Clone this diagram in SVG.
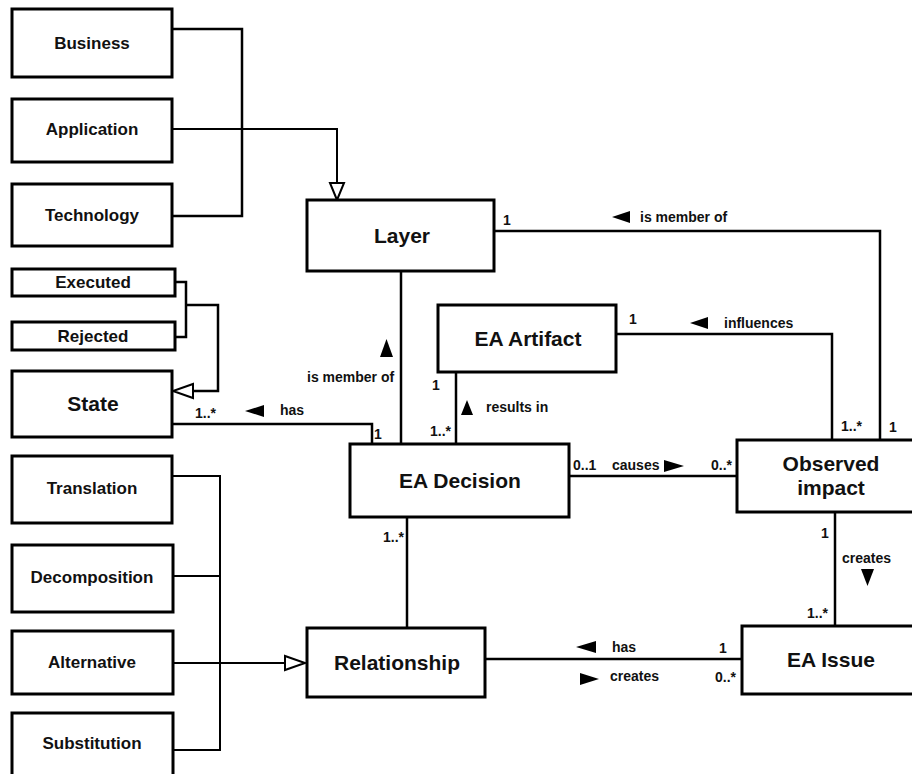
<svg xmlns="http://www.w3.org/2000/svg" width="912" height="774" viewBox="0 0 912 774">
<style>
.box{fill:#fff;stroke:#000;stroke-width:3}
.n{font-family:"Liberation Sans",Arial,sans-serif;font-weight:bold;font-size:17px;text-anchor:middle;fill:#111}
.N{font-family:"Liberation Sans",Arial,sans-serif;font-weight:bold;font-size:21px;text-anchor:middle;fill:#111}
.l{font-family:"Liberation Sans",Arial,sans-serif;font-weight:bold;font-size:14px;fill:#111}
.m{font-family:"Liberation Sans",Arial,sans-serif;font-weight:bold;font-size:14px;fill:#111}
.c{fill:none;stroke:#000;stroke-width:2.5}
.g{fill:none;stroke:#000;stroke-width:2}
.tri{fill:#fff;stroke:#000;stroke-width:2}
.dir{fill:#000;stroke:none}
</style>
<rect width="912" height="774" fill="#fff"/>
<g id="connectors">
<polyline class="c" points="172,29 242,29 242,216 172,216"/>
<polyline class="g" points="172,129 337,129 337,183"/>
<polygon class="tri" points="330,183 344,183 337,200"/>
<polyline class="c" points="175,282 186,282 186,337 175,337"/>
<polyline class="c" points="186,305 218,305 218,391 193,391"/>
<polygon class="tri" points="193,384 193,398 173,391"/>
<polyline class="c" points="172,424 372,424 372,444"/>
<polyline class="c" points="401,271 401,444"/>
<polyline class="c" points="494,231 880,231 880,440"/>
<polyline class="c" points="456,372 456,444"/>
<polyline class="c" points="616,334 832,334 832,440"/>
<polyline class="c" points="569,476 737,476"/>
<polyline class="c" points="407,517 407,628"/>
<polyline class="c" points="835,512 835,626"/>
<polyline class="c" points="485,659 742,659"/>
<polyline class="g" points="172,476 220,476 220,750 173,750"/>
<polyline class="g" points="173,576 220,576"/>
<polyline class="g" points="173,663 285,663"/>
<polygon class="tri" points="285,656 285,670 305,663"/>
<polygon class="dir" points="612,217 630,211 630,223"/>
<text class="l" x="640" y="222">is member of</text>
<text class="m" x="507" y="225" text-anchor="middle">1</text>
<text class="m" x="633" y="324" text-anchor="middle">1</text>
<polygon class="dir" points="690,323 708,317 708,329"/>
<text class="l" x="724" y="328">influences</text>
<text class="m" x="841" y="431">1..*</text>
<text class="m" x="893" y="432" text-anchor="middle">1</text>
<polygon class="dir" points="380,357 393,357 386.5,339"/>
<text class="l" x="307" y="382">is member of</text>
<text class="m" x="436" y="390" text-anchor="middle">1</text>
<polygon class="dir" points="461,415 473,415 467,400"/>
<text class="l" x="486" y="412">results in</text>
<text class="m" x="430" y="436">1..*</text>
<text class="m" x="378" y="439" text-anchor="middle">1</text>
<text class="m" x="195" y="418">1..*</text>
<polygon class="dir" points="245,411 264,405 264,417"/>
<text class="l" x="280" y="415">has</text>
<text class="m" x="573" y="470">0..1</text>
<text class="l" x="612" y="470">causes</text>
<polygon class="dir" points="664,460 684,466 664,472"/>
<text class="m" x="711" y="470">0..*</text>
<text class="m" x="383" y="542">1..*</text>
<text class="m" x="825" y="538" text-anchor="middle">1</text>
<text class="l" x="842" y="563">creates</text>
<polygon class="dir" points="861,569 874,569 867.5,586"/>
<text class="m" x="807" y="618">1..*</text>
<polygon class="dir" points="576,647 596,641 596,653"/>
<text class="l" x="612" y="652">has</text>
<text class="m" x="723" y="653" text-anchor="middle">1</text>
<polygon class="dir" points="580,673 599,679 580,685"/>
<text class="l" x="610" y="681">creates</text>
<text class="m" x="715" y="682">0..*</text>
</g>
<g id="business"><rect class="box" x="12" y="9" width="160" height="68"/><text class="n" x="92" y="49">Business</text></g>
<g id="application"><rect class="box" x="12" y="99" width="160" height="63"/><text class="n" x="92" y="135">Application</text></g>
<g id="technology"><rect class="box" x="12" y="184" width="160" height="62"/><text class="n" x="92" y="221">Technology</text></g>
<g id="executed"><rect class="box" x="12" y="269" width="163" height="27"/><text class="n" x="93" y="288">Executed</text></g>
<g id="rejected"><rect class="box" x="12" y="322" width="163" height="28"/><text class="n" x="93" y="342">Rejected</text></g>
<g id="state"><rect class="box" x="12" y="371" width="160" height="66"/><text class="N" x="93" y="411">State</text></g>
<g id="translation"><rect class="box" x="12" y="456" width="160" height="67"/><text class="n" x="92" y="494">Translation</text></g>
<g id="decomposition"><rect class="box" x="12" y="545" width="161" height="67"/><text class="n" x="92" y="583">Decomposition</text></g>
<g id="alternative"><rect class="box" x="12" y="631" width="161" height="63"/><text class="n" x="92" y="668">Alternative</text></g>
<g id="substitution"><rect class="box" x="12" y="713" width="161" height="75"/><text class="n" x="92" y="749">Substitution</text></g>
<g id="layer"><rect class="box" x="307" y="200" width="187" height="71"/><text class="N" x="402" y="243">Layer</text></g>
<g id="ea-artifact"><rect class="box" x="438" y="305" width="178" height="67"/><text class="N" x="528" y="346">EA Artifact</text></g>
<g id="ea-decision"><rect class="box" x="350" y="444" width="219" height="73"/><text class="N" x="460" y="488">EA Decision</text></g>
<g id="observed-impact"><rect class="box" x="737" y="440" width="190" height="72"/><text class="N" x="831" y="471">Observed</text><text class="N" x="831" y="495">impact</text></g>
<g id="relationship"><rect class="box" x="307" y="628" width="178" height="69"/><text class="N" x="397" y="670">Relationship</text></g>
<g id="ea-issue"><rect class="box" x="742" y="626" width="180" height="68"/><text class="N" x="831" y="667">EA Issue</text></g>
</svg>
